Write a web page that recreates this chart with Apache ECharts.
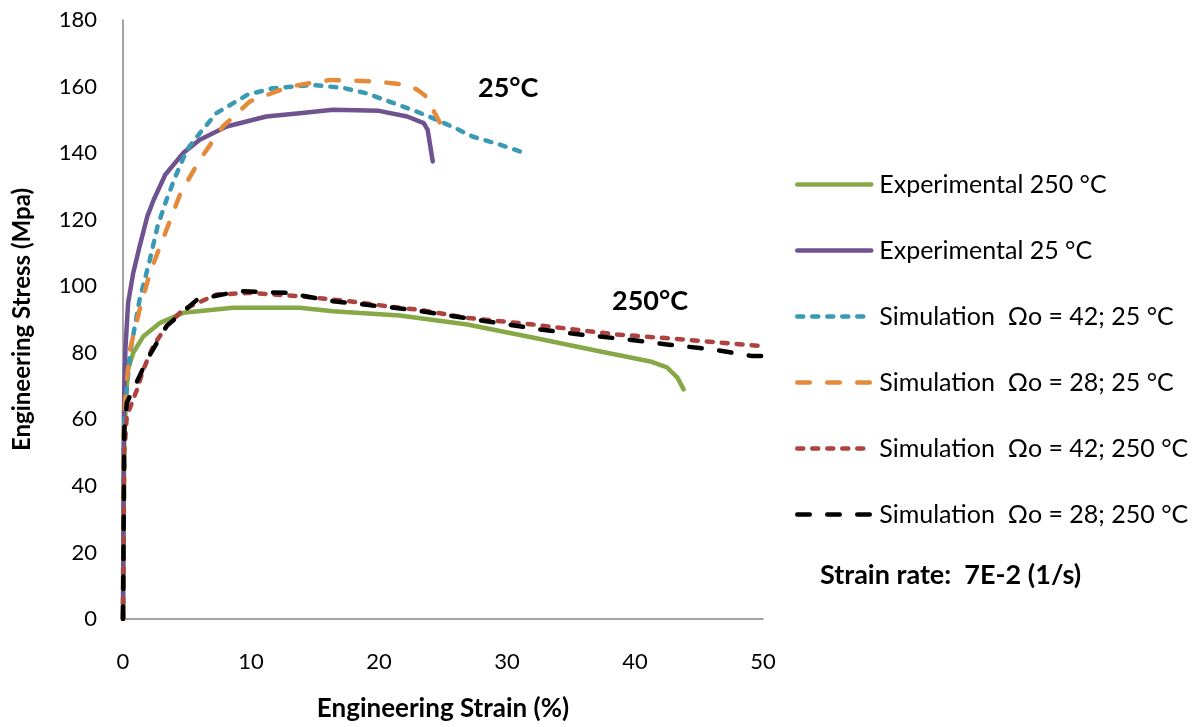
<!DOCTYPE html>
<html><head><meta charset="utf-8">
<script src="https://cdn.jsdelivr.net/npm/echarts@6/dist/echarts.min.js"></script>
<style>html,body{margin:0;padding:0;background:#fff}#c{width:1193px;height:727px}</style>
</head><body><div id="c"></div>
<script>
var xTicks = [0, 10, 20, 30, 40, 50];
var yTicks = [0, 20, 40, 60, 80, 100, 120, 140, 160, 180];
var seriesNames = ["Experimental 250 °C", "Experimental 25 °C", "Simulation  Ωo = 42; 25 °C", "Simulation  Ωo = 28; 25 °C", "Simulation  Ωo = 42; 250 °C", "Simulation  Ωo = 28; 250 °C"];
var exp250 = [[0,0],[0.1,55],[0.3,70],[0.4,75],[0.8,80],[1.6,85],[2.9,89],[4.7,92],[8.6,93.5],[13.8,93.5],[16.4,92.5],[21.6,91.2],[26.9,88.5],[32,84.6],[37.3,80.4],[41.2,77.4],[42.5,75.6],[43.3,72.6],[43.8,69]];
var exp25 = [[0,0],[0.05,50],[0.1,70],[0.2,82],[0.4,95],[0.8,104],[1.3,112],[1.9,121],[2.4,126],[3.3,133.5],[4.7,140],[6,144],[8.1,148],[11.2,151],[13.8,152],[16.4,153],[20,152.7],[22.2,151],[23.5,149],[23.8,147],[24.2,137.5]];
var sim42_25 = [[0,0],[0.05,55],[0.2,65],[0.55,80],[1.3,96],[2.1,108],[2.7,118],[3.4,126],[4.1,133],[5,141],[6,146],[7.3,152],[9.7,157.5],[11.7,159.5],[14.8,160.5],[17.2,159.6],[19,158],[20.8,155.5],[22.6,153],[24.2,150.5],[25.8,147.8],[27.3,145],[29.5,142.5],[31,140.5]];
var sim28_25 = [[0,0],[0.05,55],[0.2,68],[0.55,81],[1.3,93],[2.1,104],[3.3,116],[4.5,128],[6,138],[7.8,148],[9.9,155.5],[13,160],[16.2,162],[19.8,161.5],[22.2,160.5],[23,159],[23.6,157.3],[24.5,151],[25.2,146]];
var sim42_250 = [[0,0],[0.1,50],[0.3,61],[0.7,65],[1.1,69],[1.6,75],[2.35,82],[3.4,88],[4.7,93],[7.3,97.5],[9.9,98],[13.8,97],[17.7,95.5],[21.6,93.5],[23,93],[26.9,90.5],[32,88.5],[38.6,85.5],[43.8,84],[50,82]];
var sim28_250 = [[0,0],[0.1,57],[0.3,65],[0.8,69],[1.9,78],[3.4,88],[5.8,96],[9.1,98.5],[12.8,98],[16.4,95.5],[22.4,93],[25.8,91],[29.2,89],[32.6,87],[35.7,85.5],[39.4,84],[42.5,82.5],[46.1,81],[49.2,79],[50,79]];
var annotations = ["25°C", "250°C", "Strain rate:  7E-2 (1/s)"];

var FONT = "Lato";
var chart = echarts.init(document.getElementById('c'));
function mk(name, data, color, dash) {
  return {
    name: name, type: 'line', data: data, symbol: 'none', smooth: false,
    lineStyle: {color: color, width: 4.5, type: dash, cap: 'round', join: 'round'},
    itemStyle: {color: color},
    emphasis: {disabled: true}, animation: false
  };
}
chart.setOption({
  animation: false,
  textStyle: {fontFamily: FONT},
  grid: {left: 123, right: 430, top: 20, bottom: 107, containLabel: false},
  xAxis: {
    type: 'value', min: 0, max: 50, interval: 10,
    axisLine: {show: true, lineStyle: {color: '#878787', width: 1.5}},
    axisTick: {show: false}, splitLine: {show: false},
    axisLabel: {color: '#000', fontSize: 22, margin: 32, fontFamily: FONT,
      formatter: function(v){ return xTicks.indexOf(v) >= 0 ? String(v) : ''; }},
    name: 'Engineering Strain (%)', nameLocation: 'middle', nameGap: 77,
    nameTextStyle: {color: '#000', fontSize: 26, fontWeight: 'bold', fontFamily: FONT}
  },
  yAxis: {
    type: 'value', min: 0, max: 180, interval: 20,
    axisLine: {show: true, lineStyle: {color: '#878787', width: 1.5}},
    axisTick: {show: false}, splitLine: {show: false},
    axisLabel: {color: '#000', fontSize: 22, margin: 26, fontFamily: FONT,
      formatter: function(v){ return yTicks.indexOf(v) >= 0 ? String(v) : ''; }},
    name: 'Engineering Stress (Mpa)', nameLocation: 'middle', nameGap: 89,
    nameTextStyle: {color: '#000', fontSize: 24, fontWeight: 'bold', fontFamily: FONT}
  },
  legend: {
    orient: 'vertical', left: 790, top: 167, itemWidth: 74, itemHeight: 14, itemGap: 41,
    itemStyle: {opacity: 0},
    lineStyle: {width: 4.5},
    textStyle: {fontSize: 25, lineHeight: 25, color: '#000', fontFamily: FONT, padding: [0,0,0,3]},
    data: seriesNames
  },
  graphic: [
    {type: 'text', left: 478, top: 75, style: {text: annotations[0], font: 'bold 27px ' + FONT, fill: '#000'}},
    {type: 'text', left: 612, top: 288, style: {text: annotations[1], font: 'bold 27px ' + FONT, fill: '#000'}},
    {type: 'text', left: 820, top: 562, style: {text: annotations[2], font: 'bold 27px ' + FONT, fill: '#000'}}
  ],
  series: [
    mk(seriesNames[0], exp250, '#86A846', 'solid'),
    mk(seriesNames[1], exp25, '#6E5390', 'solid'),
    mk(seriesNames[2], sim42_25, '#3A9AB3', [6, 9]),
    mk(seriesNames[3], sim28_25, '#E5893A', [12.5, 17.5]),
    mk(seriesNames[4], sim42_250, '#AE423F', [6, 9]),
    mk(seriesNames[5], sim28_250, '#000000', [12.5, 17.5])
  ]
});
</script></body></html>
